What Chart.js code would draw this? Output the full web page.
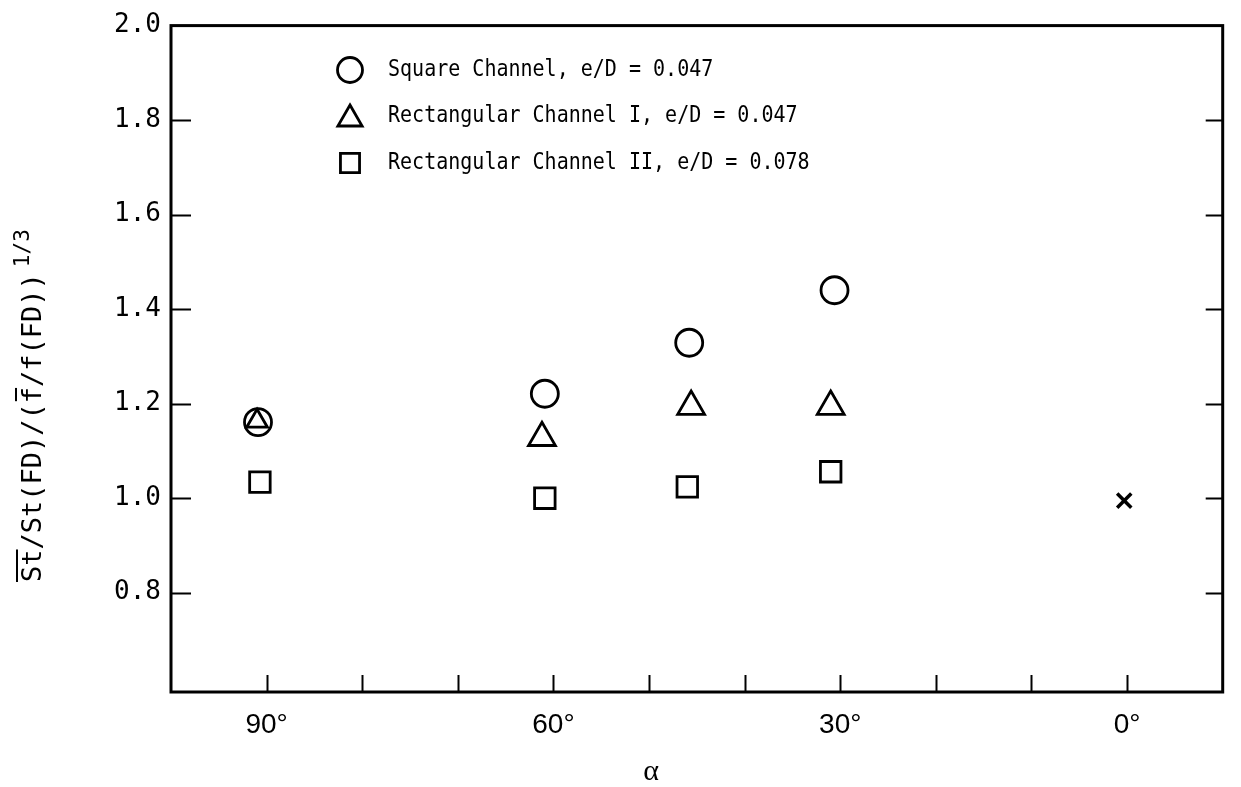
<!DOCTYPE html>
<html><head><meta charset="utf-8">
<script src="https://cdn.jsdelivr.net/npm/chart.js@4/dist/chart.umd.min.js"></script>
<style>html,body{margin:0;padding:0;background:#fff}canvas{display:block}</style>
</head><body>
<canvas id="c" width="1241" height="787"></canvas>
<script>
// ---- data ----
const squareAlpha = [90.9, 60.9, 45.8, 30.6];
const squareValue = [1.161, 1.221, 1.329, 1.440];
const rect1Alpha = [91.0, 61.2, 45.6, 31.0];
const rect1Value = [1.163, 1.128, 1.194, 1.194];
const rect2Alpha = [90.7, 60.9, 46.0, 31.0];
const rect2Value = [1.034, 1.000, 1.024, 1.056];
const smoothAlpha = [0.3];
const smoothValue = [0.995];
const seriesLabels = ['Square Channel, e/D = 0.047', 'Rectangular Channel I, e/D = 0.047', 'Rectangular Channel II, e/D = 0.078'];
const xTickLabels = {90: '90°', 60: '60°', 30: '30°', 0: '0°'};
const xMinorTicks = [0, 10, 20, 30, 40, 50, 60, 70, 80, 90];
const yTicks = [0.8, 1.0, 1.2, 1.4, 1.6, 1.8, 2.0];
const xTitle = 'α';
const yTitleMain = 'St/St(FD)/(f/f(FD))';
const yTitleExp = '1/3';

const pts = (xs, ys) => xs.map((x, i) => ({x: x, y: ys[i]}));

function marker(ctx, style, x, y, r) {
  ctx.beginPath();
  if (style === 'circle') {
    ctx.arc(x, y, r, 0, Math.PI * 2);
  } else if (style === 'triangle') {
    for (let k = 0; k < 3; k++) {
      const a = k * 2 * Math.PI / 3;
      const px = x + Math.sin(a) * r, py = y - Math.cos(a) * r;
      if (k === 0) ctx.moveTo(px, py); else ctx.lineTo(px, py);
    }
    ctx.closePath();
  } else if (style === 'rect') {
    const s = r * Math.SQRT1_2;
    ctx.rect(x - s, y - s, 2 * s, 2 * s);
  }
  ctx.fillStyle = '#fff';
  ctx.fill();
  ctx.lineWidth = 2.8;
  ctx.strokeStyle = '#000';
  ctx.stroke();
}

const framePlugin = {
  id: 'frame',
  beforeDatasetsDraw(chart) {
    const {ctx, chartArea: a, scales: {x, y}} = chart;
    ctx.save();
    ctx.strokeStyle = '#000';
    ctx.lineWidth = 3;
    ctx.strokeRect(a.left, a.top, a.right - a.left, a.bottom - a.top);
    ctx.lineWidth = 2;
    yTicks.forEach(v => {
      if (v >= 2.0) return;
      const py = Math.round(y.getPixelForValue(v)) + 0.5;
      ctx.beginPath();
      ctx.moveTo(a.left, py); ctx.lineTo(a.left + 20, py);
      ctx.moveTo(a.right, py); ctx.lineTo(a.right - 17, py);
      ctx.stroke();
    });
    xMinorTicks.forEach(v => {
      const px = Math.round(x.getPixelForValue(v)) + 0.5;
      ctx.beginPath();
      ctx.moveTo(px, a.bottom); ctx.lineTo(px, a.bottom - 17);
      ctx.stroke();
    });
    ctx.restore();
  },
  afterDraw(chart) {
    const {ctx} = chart;
    ctx.save();
    // legend
    const styles = ['circle', 'triangle', 'rect'];
    const radii = [12.5, 14, 13.5];
    const rows = [70, 116, 163];
    styles.forEach((s, i) => {
      marker(ctx, s, 350, rows[i] + (s === 'triangle' ? 3 : 0), radii[i]);
      ctx.save();
      ctx.fillStyle = '#000';
      ctx.textBaseline = 'middle';
      ctx.textAlign = 'left';
      ctx.font = '23px "DejaVu Sans Mono"';
      ctx.translate(388, rows[i]);
      ctx.scale(0.87, 1);
      ctx.fillText(seriesLabels[i], 0, 0);
      ctx.restore();
    });
    // x title
    ctx.fillStyle = '#000';
    ctx.font = '30px "Liberation Serif"';
    ctx.textAlign = 'center';
    ctx.textBaseline = 'middle';
    ctx.fillText(xTitle, 651, 772);
    // y title (rotated)
    ctx.translate(41, 582);
    ctx.rotate(-Math.PI / 2);
    ctx.textAlign = 'left';
    ctx.textBaseline = 'alphabetic';
    ctx.font = '27px "DejaVu Sans Mono"';
    ctx.fillText(yTitleMain, 0, 0);
    const wMain = ctx.measureText(yTitleMain).width;
    const wSt = ctx.measureText('St').width;
    const wPre = ctx.measureText('St/St(FD)/(').width;
    const wf = ctx.measureText('f').width;
    ctx.fillRect(0, -25, wSt, 2);
    ctx.fillRect(wPre + 2, -26, wf - 3, 2);
    ctx.font = '21px "DejaVu Sans Mono"';
    ctx.fillText(yTitleExp, wMain + 6, -12);
    ctx.restore();
  }
};

new Chart(document.getElementById('c'), {
  type: 'scatter',
  data: {
    datasets: [
      {label: seriesLabels[0], data: pts(squareAlpha, squareValue), pointStyle: 'circle', pointRadius: 13.5},
      {label: seriesLabels[1], data: pts(rect1Alpha, rect1Value), pointStyle: 'triangle', pointRadius: c => c.dataIndex === 0 ? 12 : 15.5},
      {label: seriesLabels[2], data: pts(rect2Alpha, rect2Value), pointStyle: 'rect', pointRadius: 14.5},
      {label: 'smooth', data: pts(smoothAlpha, smoothValue), pointStyle: 'crossRot', pointRadius: 10, pointBorderWidth: 3.5}
    ]
  },
  options: {
    responsive: false,
    animation: false,
    events: [],
    devicePixelRatio: 1,
    layout: {padding: {top: 23, right: 10, left: 0, bottom: 0}},
    elements: {point: {backgroundColor: 'rgba(255,255,255,0)', borderColor: '#000', borderWidth: 2.8}},
    plugins: {legend: {display: false}, tooltip: {enabled: false}},
    scales: {
      x: {
        type: 'linear', min: -10, max: 100, reverse: true,
        grid: {display: false, drawTicks: false}, border: {display: false},
        ticks: {stepSize: 10, autoSkip: false, maxRotation: 0, padding: 16, color: '#000',
          font: {family: 'Liberation Sans', size: 28},
          callback: v => (xTickLabels[v] !== undefined ? xTickLabels[v] : '')},
        afterFit: s => { s.height = 95; }
      },
      y: {
        type: 'linear', min: 0.59, max: 2.0,
        grid: {display: false, drawTicks: false}, border: {display: false},
        afterBuildTicks: s => { s.ticks = yTicks.map(v => ({value: v})); },
        ticks: {padding: 10, color: '#000', font: {family: 'DejaVu Sans Mono', size: 26},
          callback: v => Number(v).toFixed(1)},
        afterFit: s => { s.width = 171; }
      }
    }
  },
  plugins: [framePlugin]
});
</script>
</body></html>
